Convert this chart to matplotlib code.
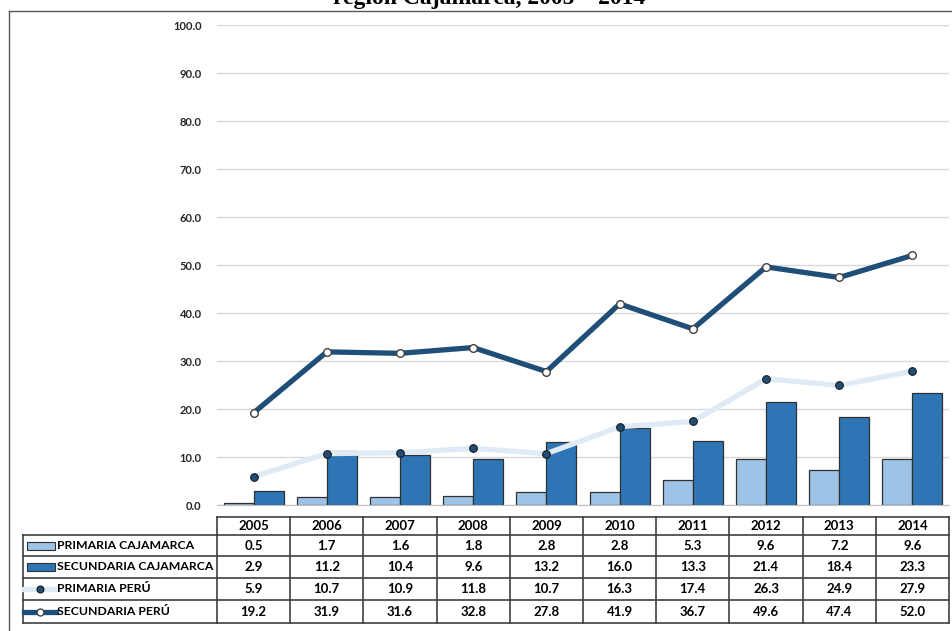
import matplotlib
matplotlib.use('Agg')
import matplotlib.pyplot as plt
import matplotlib.transforms as mtransforms
from matplotlib.lines import Line2D
from matplotlib.patches import Rectangle
import numpy as np

# ---- data ----
years = ['2005', '2006', '2007', '2008', '2009', '2010', '2011', '2012', '2013', '2014']
primaria_cajamarca = [0.5, 1.7, 1.6, 1.8, 2.8, 2.8, 5.3, 9.6, 7.2, 9.6]
secundaria_cajamarca = [2.9, 11.2, 10.4, 9.6, 13.2, 16.0, 13.3, 21.4, 18.4, 23.3]
primaria_peru = [5.9, 10.7, 10.9, 11.8, 10.7, 16.3, 17.4, 26.3, 24.9, 27.9]
secundaria_peru = [19.2, 31.9, 31.6, 32.8, 27.8, 41.9, 36.7, 49.6, 47.4, 52.0]
series_labels = ['PRIMARIA CAJAMARCA', 'SECUNDARIA CAJAMARCA', 'PRIMARIA PERÚ', 'SECUNDARIA PERÚ']
title_text = 'región Cajamarca, 2005 – 2014'
y_ticks = [0, 10, 20, 30, 40, 50, 60, 70, 80, 90, 100]

# ---- styles ----
C_LIGHT_BAR = '#9dc3e6'
C_DARK_BAR = '#2e75b6'
C_LIGHT_LINE = '#deebf7'
C_DARK_LINE = '#1f4e79'
EDGE = '#303030'
FONT = 'Lato'

W, H = 952, 631
fig = plt.figure(figsize=(W / 100, H / 100), dpi=100)
fig.patch.set_facecolor('white')

ax = fig.add_axes([217 / W, 1 - 505 / H, 732 / W, 480 / H])
x = np.arange(len(years))
bw = 0.41
ax.bar(x - bw / 2, primaria_cajamarca, bw, color=C_LIGHT_BAR, edgecolor=EDGE, linewidth=0.9, zorder=2)
ax.bar(x + bw / 2, secundaria_cajamarca, bw, color=C_DARK_BAR, edgecolor=EDGE, linewidth=0.9, zorder=2)
ax.plot(x, primaria_peru, color=C_LIGHT_LINE, lw=3.8, marker='o', ms=5.5,
        mfc=C_DARK_LINE, mec='#1a1a1a', mew=0.8, zorder=3)
ax.plot(x, secundaria_peru, color=C_DARK_LINE, lw=3.8, marker='o', ms=5.5,
        mfc='white', mec='#404040', mew=1.0, zorder=4)

ax.set_xlim(-0.5, len(years) - 0.5)
ax.set_ylim(0, 100)
ax.set_yticks(y_ticks)
ax.set_yticklabels([f'{v:.1f}' for v in y_ticks], fontfamily=FONT, fontweight='bold',
                   fontsize=8, color='#262626')
ax.tick_params(axis='y', length=0, pad=11)
ax.set_xticks([])
ax.yaxis.grid(True, color='#d9d9d9', lw=1)
ax.set_axisbelow(True)
for s in ['left', 'right', 'top']:
    ax.spines[s].set_visible(False)
ax.spines['bottom'].set_color('#bfbfbf')

# ---- data table ----
blend = mtransforms.blended_transform_factory(ax.transData, fig.transFigure)
ft = fig.transFigure
def fy(py):
    return 1 - py / H
def fx(px):
    return px / W

row_edges = [517, 535, 556, 578, 600, 623]
lc = '#404040'
lw_t = 1.2
left_px = 23
ax.add_line(Line2D([-0.5, len(years) - 0.5], [fy(row_edges[0])] * 2, transform=blend,
                   color=lc, lw=lw_t, clip_on=False))
for ry in row_edges[1:]:
    fig.add_artist(Line2D([fx(left_px), fx(217)], [fy(ry)] * 2, transform=ft, color=lc, lw=lw_t))
    ax.add_line(Line2D([-0.5, len(years) - 0.5], [fy(ry)] * 2, transform=blend,
                       color=lc, lw=lw_t, clip_on=False))
fig.add_artist(Line2D([fx(left_px)] * 2, [fy(row_edges[1]), fy(row_edges[-1])], transform=ft, color=lc, lw=lw_t))
for i in range(len(years) + 1):
    ax.add_line(Line2D([i - 0.5] * 2, [fy(row_edges[0]), fy(row_edges[-1])], transform=blend,
                       color=lc, lw=lw_t, clip_on=False))

tfs = 9.5
lfs = 8.8
for i, yr in enumerate(years):
    ax.text(i, fy((row_edges[0] + row_edges[1]) / 2), yr, transform=blend, ha='center', va='center',
            fontfamily=FONT, fontweight='bold', fontsize=tfs, clip_on=False)
rows = [primaria_cajamarca, secundaria_cajamarca, primaria_peru, secundaria_peru]
for r, vals in enumerate(rows):
    yc = fy((row_edges[r + 1] + row_edges[r + 2]) / 2)
    for i, v in enumerate(vals):
        ax.text(i, yc, f'{v:.1f}', transform=blend, ha='center', va='center',
                fontfamily=FONT, fontweight='bold', fontsize=tfs, clip_on=False)
    fig.text(fx(57), yc, series_labels[r], ha='left', va='center',
             fontfamily=FONT, fontweight='bold', fontsize=lfs)

# legend keys
for r, col in enumerate([C_LIGHT_BAR, C_DARK_BAR]):
    yc = (row_edges[r + 1] + row_edges[r + 2]) / 2
    fig.add_artist(Rectangle((fx(27), fy(yc + 4)), fx(55) - fx(27), fy(yc - 4) - fy(yc + 4),
                             transform=ft, facecolor=col, edgecolor=EDGE, lw=0.8))
yc = (row_edges[3] + row_edges[4]) / 2
fig.add_artist(Line2D([fx(24), fx(56)], [fy(yc)] * 2, transform=ft, color=C_LIGHT_LINE, lw=3.8))
fig.add_artist(Line2D([fx(40)], [fy(yc)], transform=ft, marker='o', ms=5, mfc=C_DARK_LINE, mec='#1a1a1a', mew=0.8))
yc = (row_edges[4] + row_edges[5]) / 2
fig.add_artist(Line2D([fx(24), fx(56)], [fy(yc)] * 2, transform=ft, color=C_DARK_LINE, lw=3.8))
fig.add_artist(Line2D([fx(40)], [fy(yc)], transform=ft, marker='o', ms=5, mfc='white', mec='#404040', mew=1.0))

# ---- frame and title ----
fig.add_artist(Line2D([fx(9), 1], [fy(11)] * 2, transform=ft, color='#595959', lw=1))
fig.add_artist(Line2D([fx(9)] * 2, [fy(11), 0], transform=ft, color='#595959', lw=1))
fig.text(fx(489), fy(4), title_text, ha='center', va='baseline', fontfamily='Liberation Serif',
         fontweight='bold', fontsize=17)

fig.savefig('out.png', dpi=100)
